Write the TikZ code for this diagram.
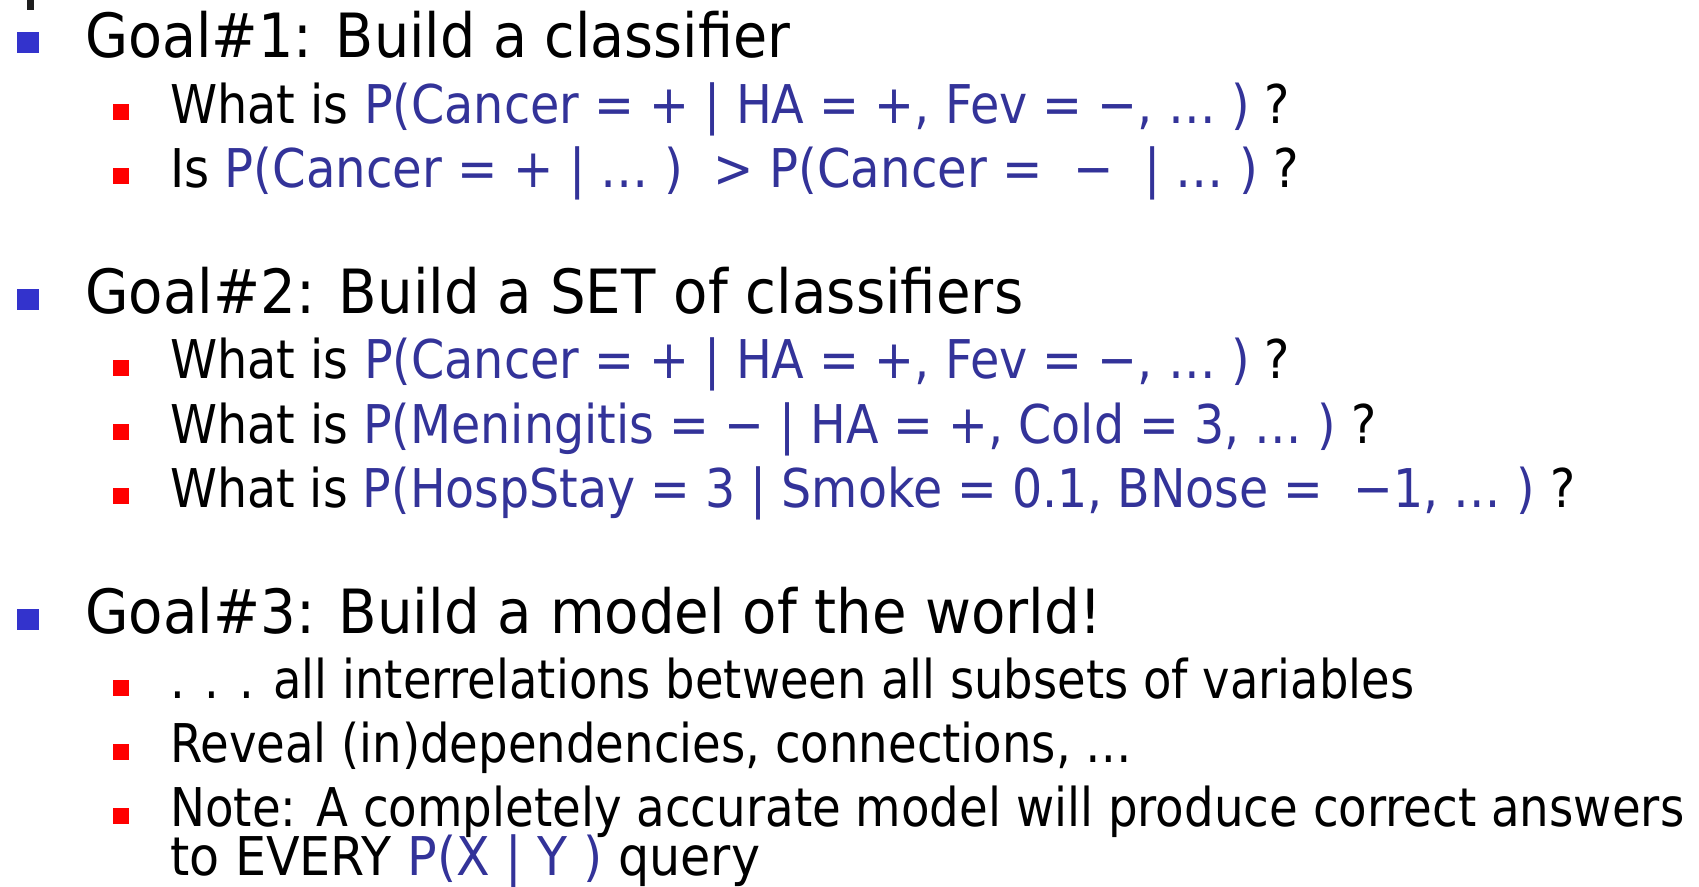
\documentclass[tikz,border=0pt]{standalone}
\usepackage{fontspec}
\usepackage{graphicx}
\setmainfont{DejaVu Sans}
\definecolor{qblue}{RGB}{51,51,153}
\definecolor{bulletblue}{RGB}{51,51,204}
\definecolor{bulletred}{RGB}{255,0,0}
\definecolor{markgray}{RGB}{30,30,30}
% set a line of text to a given width, keeping its height
\newcommand\linefit[2]{\resizebox{#1}{\height}{#2}}
% a query, in blue
\newcommand\q[1]{\textcolor{qblue}{#1}}
\begin{document}
\begin{tikzpicture}[x=1pt,y=-1pt,
  goalbullet/.style={fill=bulletblue, draw=none, minimum width=22pt, minimum height=21pt, inner sep=0pt},
  subbullet/.style={fill=bulletred, draw=none, minimum size=16pt, inner sep=0pt},
  goaltext/.style={anchor=base west, inner sep=0pt, font=\fontsize{61}{61}\selectfont},
  subtext/.style={anchor=base west, inner sep=0pt, font=\fontsize{53.4}{53.4}\selectfont}]
\fill[white] (0,0) rectangle (1699,886);
\useasboundingbox (0,0) rectangle (1699,886);

% edge of a mark above the list
\node[fill=markgray, minimum width=7pt, minimum height=10pt, inner sep=0pt, anchor=north west] (mark) at (27,0) {};

% Goal 1
\node[goalbullet] (b1) at (28,42.5) {};
\node[goaltext] (g1) at (85,57) {\linefit{705pt}{Goal\#1: Build a classifier}};
\node[subbullet] (b1a) at (121,112) {};
\node[subtext] (t1a) at (170,123) {\linefit{1120pt}{What is \q{P(Cancer = + | HA = +, Fev = −, … )} ?}};
\node[subbullet] (b1b) at (121,176) {};
\node[subtext] (t1b) at (170,187) {\linefit{1129pt}{Is \q{P(Cancer = + | … )\ \ > P(Cancer =\ \ −\ \ | … )} ?}};

% Goal 2
\node[goalbullet] (b2) at (28,299) {};
\node[goaltext] (g2) at (85,313.5) {\linefit{938pt}{Goal\#2: Build a SET of classifiers}};
\node[subbullet] (b2a) at (121,367.5) {};
\node[subtext] (t2a) at (170,378.5) {\linefit{1120pt}{What is \q{P(Cancer = + | HA = +, Fev = −, … )} ?}};
\node[subbullet] (b2b) at (121,432) {};
\node[subtext] (t2b) at (170,443) {\linefit{1206pt}{What is \q{P(Meningitis = − | HA = +, Cold = 3, … )} ?}};
\node[subbullet] (b2c) at (121,496) {};
\node[subtext] (t2c) at (170,507) {\linefit{1405pt}{What is \q{P(HospStay = 3 | Smoke = 0.1, BNose =\ \ −1, … )} ?}};

% Goal 3
\node[goalbullet] (b3) at (28,619) {};
\node[goaltext] (g3) at (85,633.5) {\linefit{1017pt}{Goal\#3: Build a model of the world!}};
\node[subbullet] (b3a) at (121,687.5) {};
\node[subtext] (t3a) at (170,698.5) {\linefit{1244pt}{. . . all interrelations between all subsets of variables}};
\node[subbullet] (b3b) at (121,751.5) {};
\node[subtext] (t3b) at (170,762.5) {\linefit{962pt}{Reveal (in)dependencies, connections, …}};
\node[subbullet] (b3c) at (121,815.5) {};
\node[subtext] (t3c) at (170,826.5) {\linefit{1514pt}{Note: A completely accurate model will produce correct answers}};
\node[subtext] (t3d) at (170,875) {\linefit{590pt}{to EVERY \q{P(X | Y )} query}};
\end{tikzpicture}
\end{document}
